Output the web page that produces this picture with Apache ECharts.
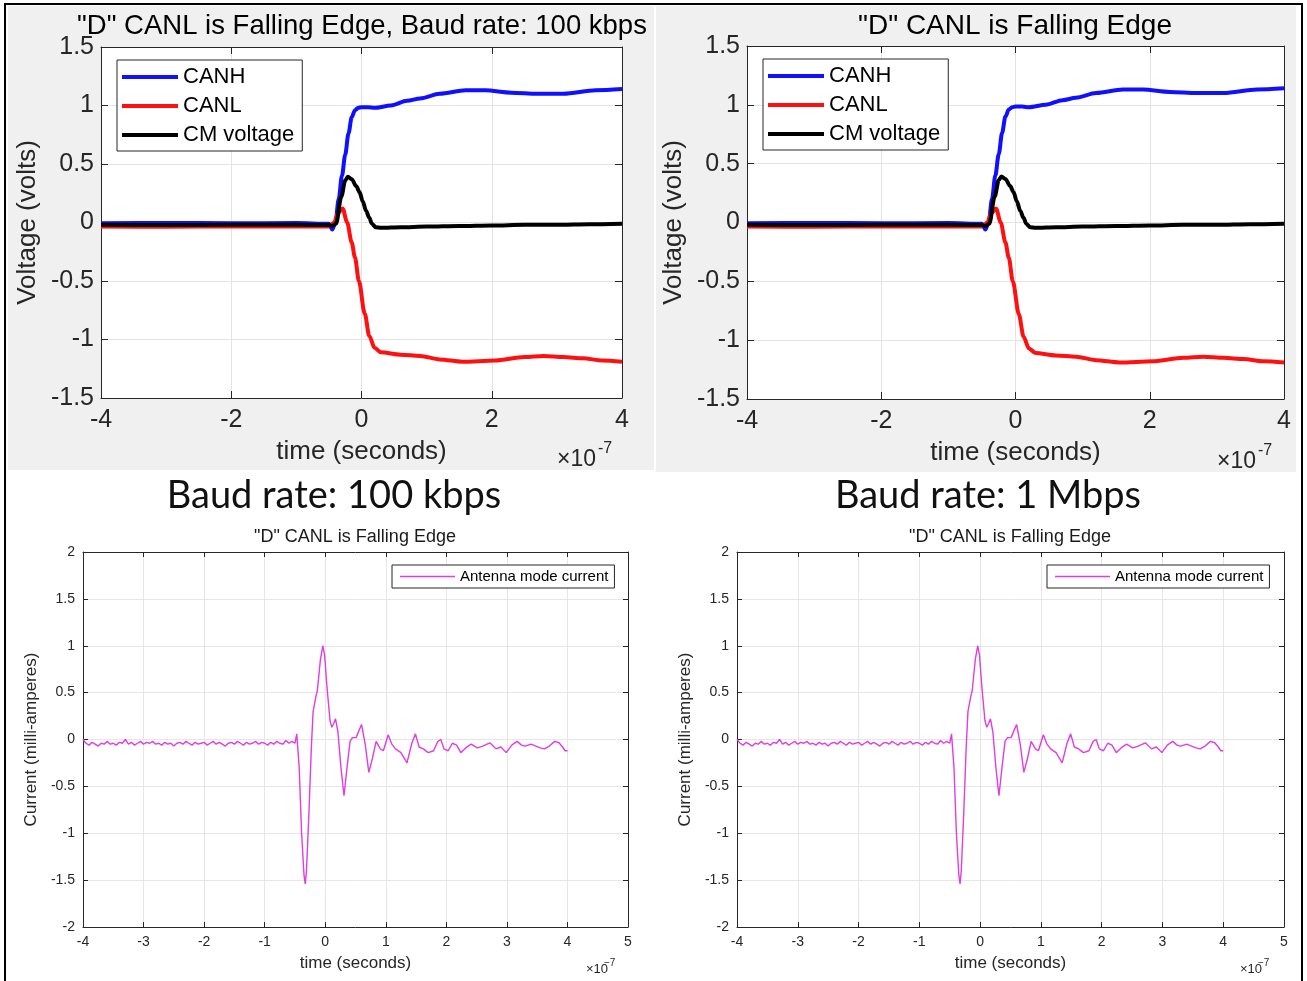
<!DOCTYPE html>
<html>
<head>
<meta charset="utf-8">
<script src="https://cdn.jsdelivr.net/npm/echarts@6/dist/echarts.min.js"></script>
<style>
  html, body { margin: 0; padding: 0; background: #fff; }
  #chart { width: 1307px; height: 981px; }
</style>
</head>
<body>
<div id="chart"></div>
<script>
// time is in units of 1e-7 s (axes show "x10^-7")
const canhTime = [-4, -3, -2, -1, -0.5, -0.45, -0.4, -0.35, -0.3, -0.25, -0.2, -0.15, -0.1, -0.05, 0,
  0.1, 0.2, 0.45, 0.7, 0.9, 1.2, 1.6, 1.9, 2.3, 2.7, 3.1, 3.6, 4];
const canhVolts = [-0.006, -0.004, -0.006, -0.005, -0.01, -0.06, 0.0, 0.2, 0.4, 0.58, 0.76, 0.9, 0.96, 0.98, 0.985,
  0.985, 0.98, 1.0, 1.04, 1.06, 1.10, 1.13, 1.13, 1.11, 1.10, 1.10, 1.13, 1.14];

const canlTime = [-4, -3, -2, -1, -0.5, -0.42, -0.36, -0.29, -0.22, -0.15, -0.1, -0.04, 0.05, 0.12, 0.2, 0.3,
  0.6, 0.9, 1.2, 1.55, 2.05, 2.5, 2.8, 3.1, 3.4, 3.7, 4];
const canlVolts = [-0.034, -0.036, -0.034, -0.035, -0.034, 0.0, 0.08, 0.12, 0.0, -0.17, -0.3, -0.5, -0.78, -0.97, -1.07, -1.11,
  -1.13, -1.14, -1.17, -1.19, -1.18, -1.15, -1.14, -1.15, -1.16, -1.18, -1.19];

const cmTime = [-4, -3, -2, -1, -0.5, -0.45, -0.39, -0.31, -0.25, -0.21, -0.15, -0.08, -0.03, 0.02, 0.07, 0.12, 0.16, 0.22, 0.3,
  0.6, 1, 1.5, 2, 2.5, 3, 3.5, 4];
const cmVolts = [-0.02, -0.021, -0.02, -0.02, -0.022, -0.03, -0.01, 0.22, 0.36, 0.39, 0.37, 0.31, 0.26, 0.18, 0.1, 0.04, -0.01, -0.04, -0.045,
  -0.04, -0.035, -0.03, -0.025, -0.02, -0.02, -0.015, -0.01];

// antenna mode current (mA): quiet part before the edge
const quietTime = [
  -4, -3.95, -3.9, -3.85, -3.8, -3.75, -3.7, -3.65, -3.6, -3.55,
  -3.5, -3.45, -3.4, -3.35, -3.3, -3.25, -3.2, -3.15, -3.1, -3.05,
  -3, -2.95, -2.9, -2.85, -2.8, -2.75, -2.7, -2.65, -2.6, -2.55,
  -2.5, -2.45, -2.4, -2.35, -2.3, -2.25, -2.2, -2.15, -2.1, -2.05,
  -2, -1.95, -1.9, -1.85, -1.8, -1.75, -1.7, -1.65, -1.6, -1.55,
  -1.5, -1.45, -1.4, -1.35, -1.3, -1.25, -1.2, -1.15, -1.1, -1.05,
  -1, -0.95, -0.9, -0.85, -0.8, -0.75, -0.7, -0.65, -0.6, -0.55,
  -0.5];
const quietCurrent = [
  0.0, -0.04, -0.06, -0.03, -0.05, -0.07, -0.04, -0.05, -0.02, -0.05,
  -0.04, -0.06, -0.03, -0.04, 0.0, -0.05, -0.03, -0.06, -0.04, -0.02,
  -0.05, -0.03, -0.04, -0.02, -0.05, -0.04, -0.06, -0.03, -0.05, -0.04,
  -0.07, -0.04, -0.03, -0.05, -0.02, -0.04, -0.06, -0.03, -0.05, -0.04,
  -0.03, -0.06, -0.04, -0.02, -0.05, -0.03, -0.05, -0.07, -0.04, -0.03,
  -0.05, -0.02, -0.04, -0.06, -0.03, -0.05, -0.04, -0.02, -0.05, -0.03,
  -0.04, -0.06, -0.03, -0.05, -0.02, -0.04, -0.05, -0.01, -0.04, -0.02,
  -0.04];
// ringing after the edge, [time, current]
const ringing = [
  [-0.47, 0.06], [-0.43, -0.3], [-0.39, -1.0], [-0.35, -1.45], [-0.33, -1.54], [-0.31, -1.4], [-0.27, -0.8],
  [-0.23, -0.1], [-0.2, 0.3], [-0.15, 0.47], [-0.13, 0.52], [-0.08, 0.85], [-0.04, 1.0], [-0.01, 0.9],
  [0.03, 0.55], [0.08, 0.2], [0.11, 0.13], [0.14, 0.17], [0.17, 0.22], [0.21, 0.08], [0.26, -0.3],
  [0.31, -0.6], [0.36, -0.3], [0.41, -0.02], [0.45, 0.02], [0.51, 0.02], [0.56, 0.1], [0.6, 0.16],
  [0.66, -0.05], [0.72, -0.35], [0.78, -0.2], [0.84, -0.02], [0.91, -0.1], [0.96, -0.12], [1.04, 0.05],
  [1.1, -0.05], [1.16, -0.1], [1.25, -0.14], [1.35, -0.25], [1.43, -0.04], [1.49, 0.06], [1.55, -0.08],
  [1.62, -0.1], [1.7, -0.14], [1.79, -0.12], [1.86, -0.02], [1.91, 0.0], [1.96, -0.1], [2.03, -0.12],
  [2.1, -0.04], [2.17, -0.06], [2.24, -0.14], [2.32, -0.09], [2.41, -0.05], [2.51, -0.09], [2.6, -0.07],
  [2.72, -0.035], [2.82, -0.1], [2.9, -0.08], [2.99, -0.14], [3.08, -0.06], [3.17, -0.02], [3.24, -0.06],
  [3.3, -0.07], [3.4, -0.05], [3.48, -0.07], [3.55, -0.09], [3.62, -0.1], [3.7, -0.07], [3.79, -0.02],
  [3.86, -0.035], [3.92, -0.08], [3.96, -0.12], [4.0, -0.12]
];

const voltTicks = {min: -1.5, max: 1.5, interval: 0.5};
const timeTicksTop = {min: -4, max: 4, interval: 2};
const currentTicks = {min: -2, max: 2, interval: 0.5};
const timeTicksBottom = {min: -4, max: 5, interval: 1};

const FONT = '"Liberation Sans", Arial, sans-serif';
const SLIDE_FONT = 'Lato, "Open Sans", sans-serif';
const AXIS = '#262626';

function pairs(xs, ys) {
    return xs.map((x, i) => [x, ys[i]]);
}

const grids = [
    {left: 101, top: 47, width: 521, height: 351},
    {left: 747, top: 46, width: 537, height: 353},
    {left: 83, top: 552, width: 545, height: 375},
    {left: 737, top: 552, width: 547, height: 375}
];

// one labelled axis plus a mirrored bare one, so each plot gets a box with ticks all round
function makeAxes(gi, xt, yt, s) {
    const line = {show: true, onZero: false, lineStyle: {color: AXIS, width: 1}};
    const tick = {show: true, inside: true, length: s.tickLen, lineStyle: {color: AXIS, width: 1}};
    const nameStyle = {color: AXIS, fontFamily: FONT, fontSize: s.nameFont};
    const x = [
        Object.assign({gridIndex: gi, type: 'value', position: 'bottom', axisLine: line, axisTick: tick,
            axisLabel: {color: AXIS, fontFamily: FONT, fontSize: s.tickFont, margin: s.xMargin},
            splitLine: {show: true, lineStyle: {color: s.gridColor}},
            name: 'time (seconds)', nameLocation: 'middle', nameGap: s.xGap, nameTextStyle: nameStyle}, xt),
        Object.assign({gridIndex: gi, type: 'value', position: 'top', axisLine: line, axisTick: tick,
            axisLabel: {show: false}, splitLine: {show: false}}, xt)
    ];
    const y = [
        Object.assign({gridIndex: gi, type: 'value', position: 'left', axisLine: line, axisTick: tick,
            axisLabel: {color: AXIS, fontFamily: FONT, fontSize: s.tickFont, margin: s.yMargin},
            splitLine: {show: true, lineStyle: {color: s.gridColor}},
            name: s.yName, nameLocation: 'middle', nameGap: s.yGap, nameTextStyle: nameStyle}, yt),
        Object.assign({gridIndex: gi, type: 'value', position: 'right', axisLine: line, axisTick: tick,
            axisLabel: {show: false}, splitLine: {show: false}}, yt)
    ];
    return {x, y};
}

const topStyle = {tickLen: 7, tickFont: 25, nameFont: 26, xMargin: 10, yMargin: 7, xGap: 41, yGap: 60,
    gridColor: '#e3e3e3', yName: 'Voltage (volts)'};
const bottomStyle = {tickLen: 5, tickFont: 14, nameFont: 17, xMargin: 8, yMargin: 8, xGap: 28, yGap: 43,
    gridColor: '#e6e6e6', yName: 'Current (milli-amperes)'};

const axes = [
    makeAxes(0, timeTicksTop, voltTicks, topStyle),
    makeAxes(1, timeTicksTop, voltTicks, topStyle),
    makeAxes(2, timeTicksBottom, currentTicks, bottomStyle),
    makeAxes(3, timeTicksBottom, currentTicks, bottomStyle)
];

function edgeSeries(gi) {
    const base = {type: 'line', xAxisIndex: 2 * gi, yAxisIndex: 2 * gi, symbol: 'none', showSymbol: false,
        smooth: 0.3, smoothMonotone: 'x'};
    return [
        Object.assign({name: 'CANH', data: pairs(canhTime, canhVolts), color: '#1010ff',
            lineStyle: {width: 4, color: '#1010ff'}}, base),
        Object.assign({name: 'CANL', data: pairs(canlTime, canlVolts), color: '#ff1010',
            lineStyle: {width: 4, color: '#ff1010'}}, base),
        Object.assign({name: 'CM voltage', data: pairs(cmTime, cmVolts), color: '#000',
            lineStyle: {width: 4, color: '#000'}}, base)
    ];
}

const currentData = pairs(quietTime, quietCurrent).concat(ringing);

function currentSeries(gi) {
    return {type: 'line', name: 'Antenna mode current', xAxisIndex: 2 * gi, yAxisIndex: 2 * gi,
        symbol: 'none', showSymbol: false, data: currentData, color: '#e03ee0',
        lineStyle: {width: 1.4, color: '#e03ee0'}};
}

function edgeLegend(left, top) {
    return {data: ['CANH', 'CANL', 'CM voltage'], left: left, top: top, orient: 'vertical',
        icon: 'rect', itemWidth: 56, itemHeight: 4, itemGap: 7, padding: [6, 8, 5, 5],
        borderColor: AXIS, borderWidth: 1, backgroundColor: '#fff', selectedMode: false,
        textStyle: {fontFamily: FONT, fontSize: 22, color: '#000'}};
}

function currentLegend(left, top) {
    return {data: ['Antenna mode current'], left: left, top: top, orient: 'vertical',
        icon: 'rect', itemWidth: 55, itemHeight: 1.5, padding: [4, 6, 4, 8],
        borderColor: AXIS, borderWidth: 1, backgroundColor: '#fff', selectedMode: false,
        textStyle: {fontFamily: FONT, fontSize: 15, color: '#000'}};
}

function label(text, x, y, size, opts) {
    const o = opts || {};
    return {type: 'text', z: 100, style: {text: text, x: x, y: y, fill: o.fill || '#000',
        font: size + 'px ' + (o.family || FONT),
        align: o.align || 'center', textAlign: o.align || 'center',
        verticalAlign: 'middle', textVerticalAlign: 'middle'}};
}

function rect(x, y, w, h, fill, z) {
    return {type: 'rect', z: z, silent: true, shape: {x: x, y: y, width: w, height: h}, style: {fill: fill}};
}

const graphics = [
    // grey figure backgrounds of the two upper plots
    rect(8, 6, 646, 464, '#f0f0f0', -10),
    rect(656, 6, 640, 466, '#f0f0f0', -10),
    // white plot areas
    rect(101, 47, 521, 351, '#fff', -5),
    rect(747, 46, 537, 353, '#fff', -5),
    // outer frame
    {type: 'rect', z: 100, silent: true, shape: {x: 5, y: 4, width: 1297, height: 990},
        style: {fill: 'none', stroke: '#000', lineWidth: 2}},
    label('"D" CANL is Falling Edge, Baud rate: 100 kbps', 362, 26, 27.5),
    label('"D" CANL is Falling Edge', 1015, 26, 28),
    label('Baud rate: 100 kbps', 334, 496, 38, {family: SLIDE_FONT, fill: '#111'}),
    label('Baud rate: 1 Mbps', 988, 496, 38, {family: SLIDE_FONT, fill: '#111'}),
    label('"D" CANL is Falling Edge', 355, 537, 18, {fill: '#1a1a1a'}),
    label('"D" CANL is Falling Edge', 1010, 537, 18, {fill: '#1a1a1a'}),
    // exponent notes
    label('\u00d710', 557, 460, 23, {align: 'left', fill: AXIS}),
    label('-7', 598, 449, 16, {align: 'left', fill: AXIS}),
    label('\u00d710', 1217, 462, 23, {align: 'left', fill: AXIS}),
    label('-7', 1258, 451, 16, {align: 'left', fill: AXIS}),
    label('\u00d710', 586, 969, 13, {align: 'left', fill: AXIS}),
    label('\u22127', 604, 963, 10, {align: 'left', fill: AXIS}),
    label('\u00d710', 1240, 969, 13, {align: 'left', fill: AXIS}),
    label('\u22127', 1258, 963, 10, {align: 'left', fill: AXIS})
];

const chart = echarts.init(document.getElementById('chart'));
chart.setOption({
    animation: false,
    backgroundColor: '#fff',
    grid: grids,
    xAxis: axes.flatMap(a => a.x),
    yAxis: axes.flatMap(a => a.y),
    legend: [edgeLegend(117, 60), edgeLegend(763, 59), currentLegend(392, 565), currentLegend(1047, 565)],
    series: edgeSeries(0).concat(edgeSeries(1), [currentSeries(2), currentSeries(3)]),
    graphic: graphics
});
</script>
</body>
</html>
